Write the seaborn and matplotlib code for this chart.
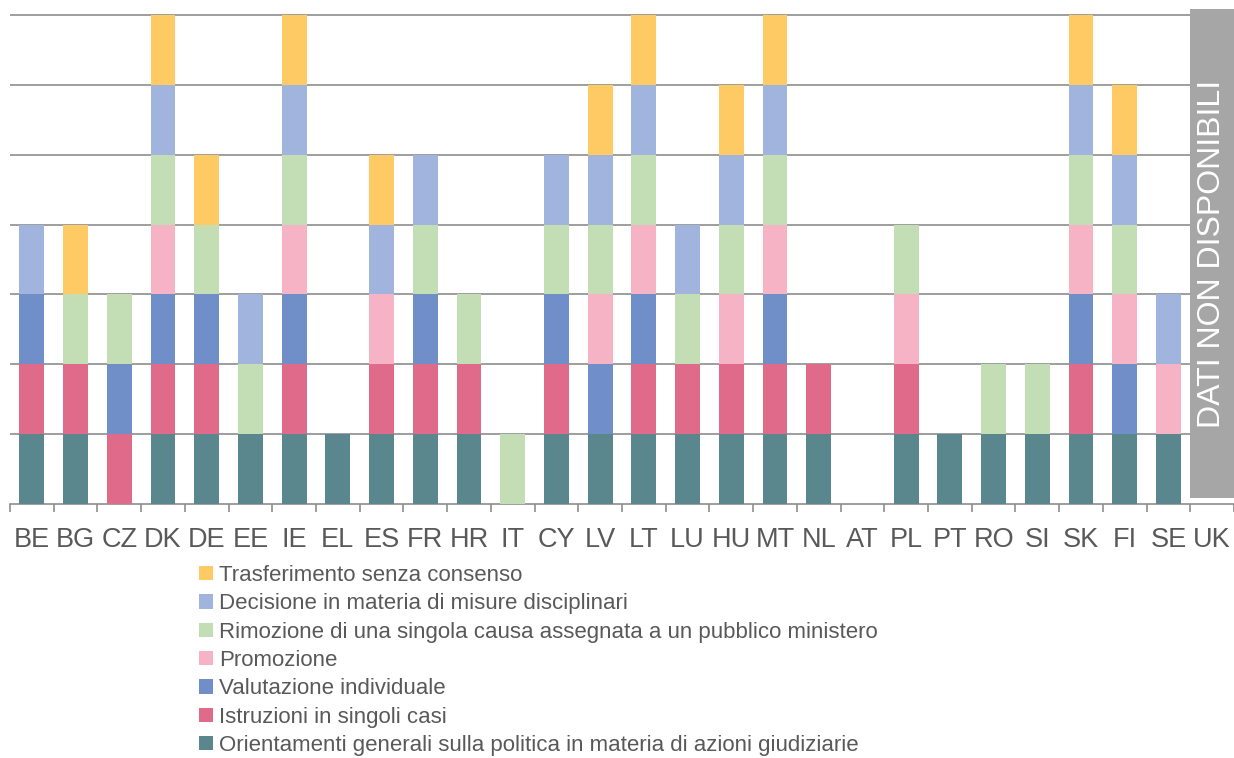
import numpy as np
import pandas as pd
import matplotlib
matplotlib.use("Agg")
import matplotlib.pyplot as plt
from matplotlib.patches import Patch, Rectangle
import seaborn as sns

countries = ["BE", "BG", "CZ", "DK", "DE", "EE", "IE", "EL", "ES", "FR", "HR", "IT",
             "CY", "LV", "LT", "LU", "HU", "MT", "NL", "AT", "PL", "PT", "RO", "SI",
             "SK", "FI", "SE", "UK"]

# One block per country where the instrument applies (1) or not (0); bottom to top
orientamenti = [1, 1, 0, 1, 1, 1, 1, 1, 1, 1, 1, 0, 1, 1, 1, 1, 1, 1, 1, 0, 1, 1, 1, 1, 1, 1, 1, 0]
istruzioni   = [1, 1, 1, 1, 1, 0, 1, 0, 1, 1, 1, 0, 1, 0, 1, 1, 1, 1, 1, 0, 1, 0, 0, 0, 1, 0, 0, 0]
valutazione  = [1, 0, 1, 1, 1, 0, 1, 0, 0, 1, 0, 0, 1, 1, 1, 0, 0, 1, 0, 0, 0, 0, 0, 0, 1, 1, 0, 0]
promozione   = [0, 0, 0, 1, 0, 0, 1, 0, 1, 0, 0, 0, 0, 1, 1, 0, 1, 1, 0, 0, 1, 0, 0, 0, 1, 1, 1, 0]
rimozione    = [0, 1, 1, 1, 1, 1, 1, 0, 0, 1, 1, 1, 1, 1, 1, 1, 1, 1, 0, 0, 1, 0, 1, 1, 1, 1, 0, 0]
decisione    = [1, 0, 0, 1, 0, 1, 1, 0, 1, 1, 0, 0, 1, 1, 1, 1, 1, 1, 0, 0, 0, 0, 0, 0, 1, 1, 1, 0]
trasferimento= [0, 1, 0, 1, 1, 0, 1, 0, 1, 0, 0, 0, 0, 1, 1, 0, 1, 1, 0, 0, 0, 0, 0, 0, 1, 1, 0, 0]

series_labels = [
    "Orientamenti generali sulla politica in materia di azioni giudiziarie",
    "Istruzioni in singoli casi",
    "Valutazione individuale",
    "Promozione",
    "Rimozione di una singola causa assegnata a un pubblico ministero",
    "Decisione in materia di misure disciplinari",
    "Trasferimento senza consenso",
]
series_values = [orientamenti, istruzioni, valutazione, promozione,
                 rimozione, decisione, trasferimento]
series_colors = ["#5A878D", "#DF6A89", "#708FC8", "#F6B3C5",
                 "#C3DEB4", "#A1B4DE", "#FECA64"]
missing_country = "UK"
missing_text = "DATI NON DISPONIBILI"

sns.set_style("white")
plt.rcParams["font.family"] = ["Liberation Sans", "DejaVu Sans"]
text_color = "#595959"
grid_color = "#8E8E8E"

df = pd.DataFrame({lab: vals for lab, vals in zip(series_labels, series_values)},
                  index=countries)
cum = df.cumsum(axis=1)

fig = plt.figure(figsize=(12.34, 7.58), dpi=100)
ax = fig.add_axes([10 / 1234, 1 - 504 / 758, 1 - 10 / 1234, (504 - 8) / 758])

# Stacked bars: draw the running totals from the top level down, each covering the next
for lab, col in list(zip(series_labels, series_colors))[::-1]:
    sns.barplot(x=countries, y=cum[lab].values, order=countries, color=col,
                width=0.57, linewidth=0, saturation=1, ax=ax, zorder=3)

ax.set_xlim(-0.5, len(countries) - 0.5)
ax.set_ylim(0, 7.1)
ax.set_yticks(range(1, 8))
ax.yaxis.grid(True, color=grid_color, linewidth=1.2, zorder=1)
ax.set_axisbelow(True)
ax.tick_params(axis="y", left=False, labelleft=False)
for s in ["top", "left", "right"]:
    ax.spines[s].set_visible(False)
ax.spines["bottom"].set_color(grid_color)
ax.spines["bottom"].set_linewidth(1.2)

ax.set_xticks(range(len(countries)))
ax.set_xticklabels(countries)
ax.set_xticks(np.arange(-0.5, len(countries)), minor=True)
ax.tick_params(axis="x", which="major", length=0, pad=16.5, labelsize=19.5,
               labelcolor=text_color)
ax.tick_params(axis="x", which="minor", length=6, width=1.2, color=grid_color,
               direction="out", bottom=True)
ax.set_xlabel("")
ax.set_ylabel("")

# Grey panel over the country without data
mi = countries.index(missing_country)
ax.add_patch(Rectangle((mi - 0.5, 0.086), 1.0, 7.0, facecolor="#A6A6A6",
                       edgecolor="none", zorder=4, clip_on=False))
ax.text(mi, 0.086 + 3.5, missing_text, rotation=90, ha="center", va="center",
        color="white", fontsize=23, zorder=5)

handles = [Patch(facecolor=c, edgecolor="none", label=l)
           for l, c in zip(series_labels, series_colors)][::-1]
fig.legend(handles=handles, loc="upper left",
           bbox_to_anchor=(199 / 1234, 1 - 565 / 758), frameon=False,
           fontsize=16, labelcolor=text_color, handlelength=0.62,
           handleheight=0.62, handletextpad=0.3, labelspacing=0.33,
           borderpad=0, borderaxespad=0)

fig.savefig("out.png", dpi=100, facecolor="white")
